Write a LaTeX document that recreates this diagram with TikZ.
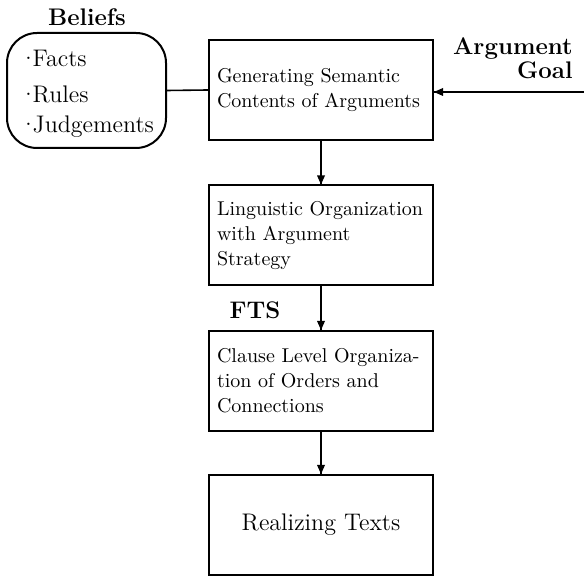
\documentclass[tikz,border=0pt]{standalone}
\usepackage{amssymb}
\usepackage{amsmath}
\usepackage{tikz}

\begin{document}
\begin{tikzpicture}[x=0.5pt,y=0.5pt]
\tikzstyle{every node}+=[inner sep=0pt]
\tikzstyle{stage}=[draw=black,line width=1pt,minimum width=112pt,minimum height=50pt,inner xsep=4pt,text width=104pt,align=left,font=\fontsize{10}{12.5}\selectfont]
\tikzstyle{tag}=[font=\large\bfseries]
\tikzstyle{item}=[anchor=west,font=\large]
\useasboundingbox (0,0) rectangle (584,-576);
\node [draw=black, line width=1pt, rounded corners=15pt, minimum width=79.5pt, minimum height=57.5pt] (beliefs) at (86.5,-90.5) {};
\draw (87,-17) node [tag] (belieftag) {Beliefs};
\node [item] (facts) at (19,-58) {\textperiodcentered\kern-2.5pt Facts};
\node [item] (rules) at (19,-94) {\textperiodcentered\kern-2.5pt Rules};
\node [item] (judge) at (19,-127) {\textperiodcentered\kern-2.5pt Judgements};
\node [stage] (gen) at (321,-90) {Generating Semantic\\Contents of Arguments};
\node [stage] (org) at (321,-235.5) {\mbox{Linguistic Organization}\\with Argument\\Strategy};
\node [stage] (clause) at (321,-381) {\mbox{Clause Level Organiza-}\\tion of Orders and\\Connections};
\node [stage, align=center, font=\large] (real) at (321,-525) {Realizing Texts};
\node [tag, anchor=east, align=right, font=\bfseries\fontsize{12}{10}\selectfont] (goal) at (573,-58) {Argument\\Goal};
\draw (255,-310) node [tag] (fts) {FTS};
\coordinate (goalin) at (584,-92);
\draw [black, line width=0.8pt] (beliefs.east) -- (gen.west);
\draw [black, line width=0.8pt] (goalin) -- (gen.east |- goalin);
\fill [black] (gen.east |- goalin) -- ++(9,4) -- ++(0,-8) -- cycle;
\draw [black, line width=0.8pt] (gen.south) -- (org.north);
\fill [black] (org.north) -- ++(-4,9) -- ++(8,0) -- cycle;
\draw [black, line width=0.8pt] (org.south) -- (clause.north);
\fill [black] (clause.north) -- ++(-4,9) -- ++(8,0) -- cycle;
\draw [black, line width=0.8pt] (clause.south) -- (real.north);
\fill [black] (real.north) -- ++(-4,9) -- ++(8,0) -- cycle;
\end{tikzpicture}
\end{document}
